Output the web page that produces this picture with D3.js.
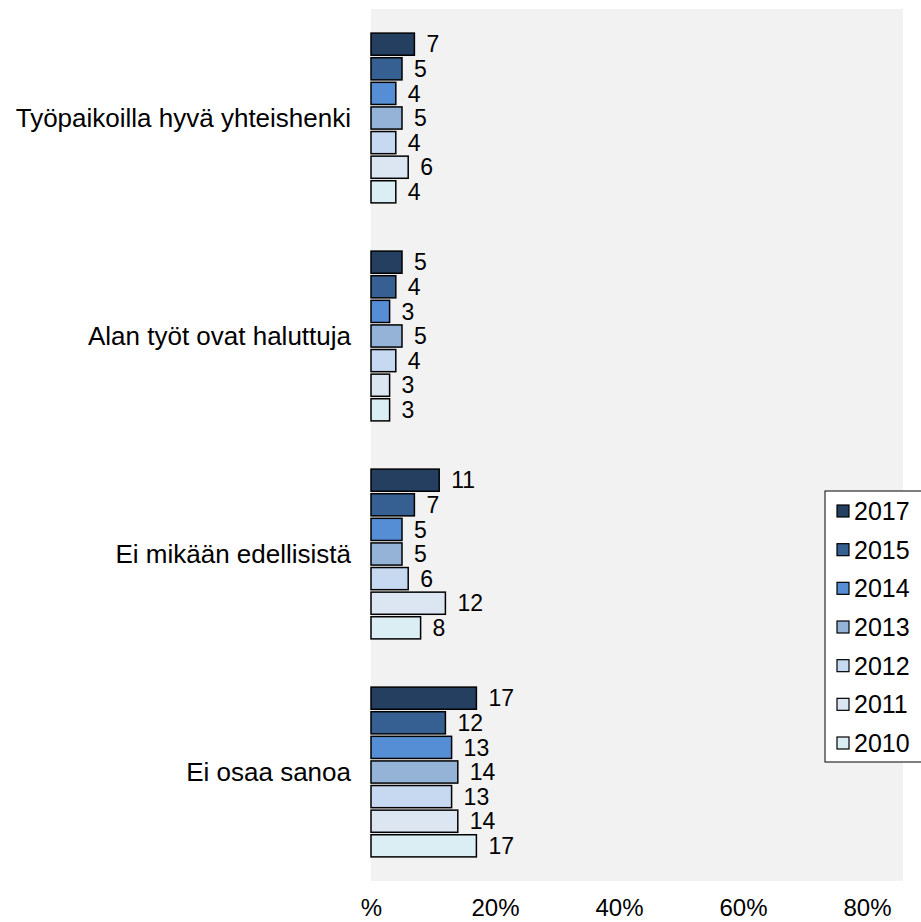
<!DOCTYPE html>
<html><head><meta charset="utf-8">
<script src="https://cdn.jsdelivr.net/npm/d3@7"></script>
<style>body{margin:0;background:#fff}svg{display:block;font-family:"Liberation Sans",Arial,sans-serif}</style>
</head><body>
<svg id="c" width="921" height="922"></svg>
<script>
const categories = ["Työpaikoilla hyvä yhteishenki","Alan työt ovat haluttuja","Ei mikään edellisistä","Ei osaa sanoa"];
const years = ["2017","2015","2014","2013","2012","2011","2010"];
const v2017 = [7,5,11,17];
const v2015 = [5,4,7,12];
const v2014 = [4,3,5,13];
const v2013 = [5,5,5,14];
const v2012 = [4,4,6,13];
const v2011 = [6,3,12,14];
const v2010 = [4,3,8,17];
const tickValues = [0,20,40,60,80];
const tickLabels = ["%","20%","40%","60%","80%"];
const colors = ["#243F60","#366092","#558ED5","#95B3D7","#C6D9F1","#DCE6F2","#DBEEF4"];

const series = [v2017,v2015,v2014,v2013,v2012,v2011,v2010];
const svg = d3.select("#c");
const L = 371, R = 903, T = 9, B = 881;
const x = d3.scaleLinear().domain([0,(R-L)/6.2]).range([L,R]);
const y0 = d3.scaleBand().domain(categories).range([T,B]);
const y1 = d3.scaleBand().domain(years).range([0,y0.bandwidth()]).paddingInner(0.1).paddingOuter(0.98);
const color = d3.scaleOrdinal().domain(years).range(colors);

svg.append("rect").attr("x",L).attr("y",T).attr("width",R-L).attr("height",B-T).attr("fill","#F2F2F2");

const rows = [];
categories.forEach((c,i)=>years.forEach((yr,j)=>rows.push({c,yr,v:series[j][i]})));

const g = svg.append("g");
g.selectAll("rect.bar").data(rows).join("rect").attr("class","bar")
  .attr("x",x(0)).attr("y",d=>y0(d.c)+y1(d.yr))
  .attr("width",d=>x(d.v)-x(0)).attr("height",y1.bandwidth())
  .attr("fill",d=>color(d.yr)).attr("stroke","#000").attr("stroke-width",1.5);
g.selectAll("text.val").data(rows).join("text").attr("class","val")
  .attr("x",d=>x(d.v)+12).attr("y",d=>y0(d.c)+y1(d.yr)+y1.bandwidth()/2)
  .attr("dy","0.36em").attr("font-size",23).attr("fill","#000").text(d=>d.v);

svg.append("g").selectAll("text").data(categories).join("text")
  .attr("x",351).attr("y",d=>y0(d)+y0.bandwidth()/2).attr("dy","0.36em")
  .attr("text-anchor","end").attr("font-size",26).text(d=>d);

const ax = svg.append("g").attr("transform",`translate(0,${B})`)
  .call(d3.axisBottom(x).tickValues(tickValues).tickSize(0).tickPadding(18)
    .tickFormat((d,i)=>tickLabels[i]));
ax.select(".domain").remove();
ax.selectAll("text").attr("font-size",24).attr("font-family","Liberation Sans, Arial, sans-serif").attr("fill","#000");

const lg = svg.append("g");
lg.append("rect").attr("x",825).attr("y",491).attr("width",110).attr("height",271)
  .attr("fill","#fff").attr("stroke","#000").attr("stroke-width",1);
const ly = d3.scalePoint().domain(years).range([511,743]);
lg.selectAll("rect.sw").data(years).join("rect").attr("class","sw")
  .attr("x",837).attr("y",d=>ly(d)-6).attr("width",12).attr("height",12)
  .attr("fill",d=>color(d)).attr("stroke","#000").attr("stroke-width",1.2);
lg.selectAll("text").data(years).join("text")
  .attr("x",854).attr("y",d=>ly(d)).attr("dy","0.36em").attr("font-size",25).text(d=>d);
</script>
</body></html>
